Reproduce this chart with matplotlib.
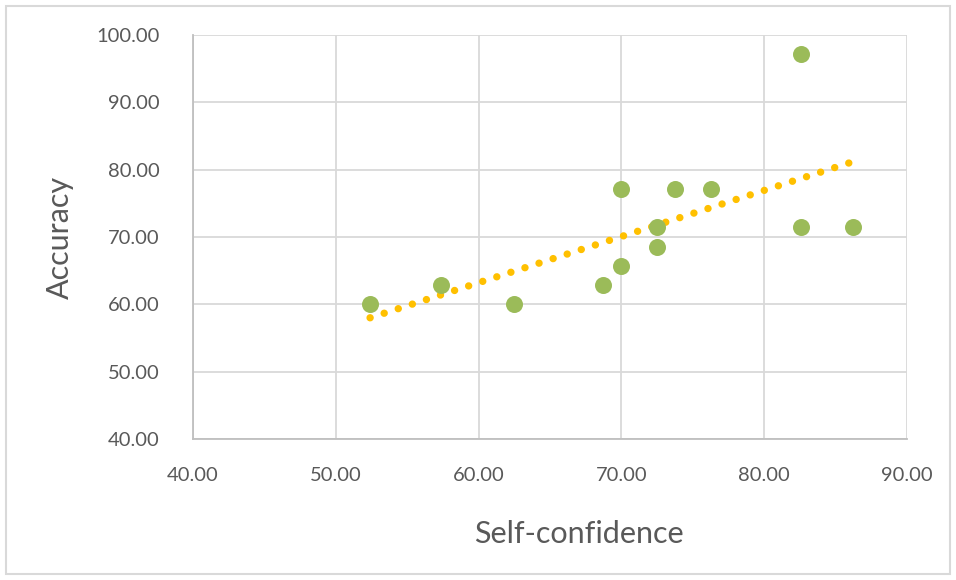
import matplotlib.pyplot as plt
import numpy as np
from matplotlib.patches import Rectangle

# === data ===
self_confidence = [52.4, 57.4, 62.5, 68.7, 70.0, 70.0, 72.5, 72.5, 73.75, 76.3, 82.6, 82.6, 86.2]
accuracy = [60.00, 62.86, 60.00, 62.86, 77.14, 65.71, 71.43, 68.57, 77.14, 77.14, 97.14, 71.43, 71.43]

plt.rcParams['font.family'] = ['Lato', 'DejaVu Sans']

fig = plt.figure(figsize=(9.56, 5.80), dpi=100)
ax = fig.add_axes([193/956, 1 - 439/580, (907 - 193)/956, (439 - 35)/580])

# points
ax.scatter(self_confidence, accuracy, s=150, color="#9bbb59", zorder=3, linewidths=0)

# linear trend line (dotted)
x = np.array(self_confidence)
k, b = np.polyfit(x, accuracy, 1)
xs = np.linspace(x.min(), x.max(), 100)
ax.plot(xs, k*xs + b, color="#ffc000", lw=5.3, linestyle=(0, (0.01, 2.0)),
        dash_capstyle="round", zorder=2)

ax.set_xlim(40, 90)
ax.set_ylim(40, 100)
ax.set_xticks(np.arange(40, 91, 10))
ax.set_yticks(np.arange(40, 101, 10))
ax.xaxis.set_major_formatter(lambda v, p: f"{v:.2f}")
ax.yaxis.set_major_formatter(lambda v, p: f"{v:.2f}")
ax.tick_params(length=0, labelsize=14.5, labelcolor="#595959")
ax.tick_params(axis='x', pad=20)
ax.tick_params(axis='y', pad=24)

ax.grid(color="#d9d9d9", lw=1.3)
ax.set_axisbelow(True)
for s in ["top", "right"]:
    ax.spines[s].set_visible(False)
for s in ["left", "bottom"]:
    ax.spines[s].set_color("#bfbfbf")
    ax.spines[s].set_linewidth(1.3)

ax.set_xlabel("Self-confidence", fontsize=22, color="#595959", labelpad=26)
ax.xaxis.label.set_x(0.54)
ax.set_ylabel("Accuracy", fontsize=22, color="#595959", labelpad=16)

# outer chart border
fig.patches.append(Rectangle((6/956, 6/580), 944/956, 568/580, transform=fig.transFigure,
                             fill=False, edgecolor="#d9d9d9", lw=1.5))

fig.savefig("out.png", dpi=100)
